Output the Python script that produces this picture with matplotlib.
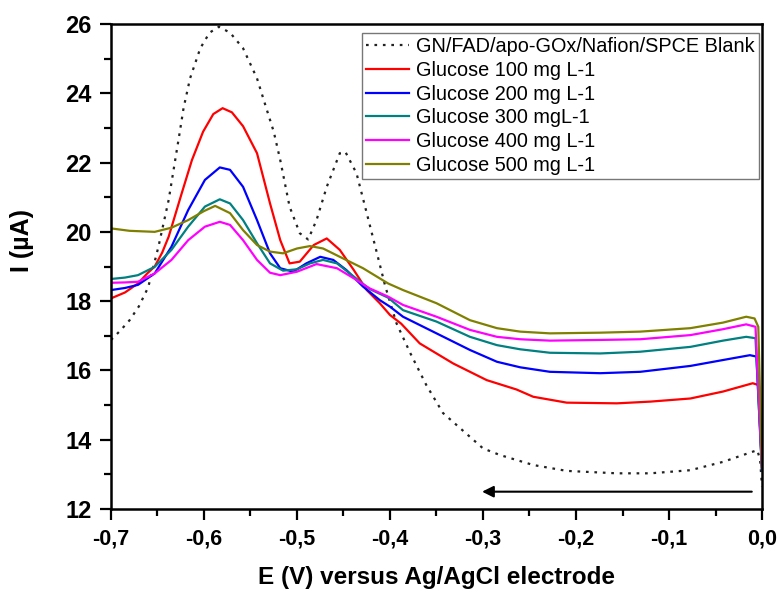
"""
DPV curves: GN/FAD/apo-GOx/Nafion/SPCE with glucose additions
"""

import numpy as np
import matplotlib
matplotlib.use('Agg')
import matplotlib.pyplot as plt
from matplotlib.ticker import MultipleLocator

matplotlib.rcParams['font.family'] = ['Liberation Sans', 'DejaVu Sans']

# ------------------------------------------------------------
# data
# ------------------------------------------------------------
blank_E = [-0.700, -0.690, -0.680, -0.670, -0.660, -0.649, -0.638, -0.631, -0.626, -0.622,
           -0.615, -0.604, -0.594, -0.584, -0.572, -0.558, -0.543, -0.533, -0.525, -0.518,
           -0.508, -0.497, -0.488, -0.479, -0.468, -0.454, -0.448, -0.436, -0.425, -0.414,
           -0.405, -0.393, -0.378, -0.361, -0.343, -0.300, -0.282, -0.246, -0.210, -0.156,
           -0.120, -0.077, -0.042, -0.005, -0.002, 0.000]
blank_I = [16.88, 17.15, 17.45, 17.85, 18.40, 19.57, 20.92, 22.07, 22.89, 23.57,
           24.43, 25.30, 25.75, 25.92, 25.75, 25.30, 24.43, 23.57, 22.89, 22.07,
           20.73, 19.96, 19.78, 20.34, 21.30, 22.27, 22.31, 21.69, 20.54, 19.38,
           18.42, 17.36, 16.49, 15.58, 14.77, 13.75, 13.56, 13.27, 13.10, 13.03,
           13.03, 13.12, 13.36, 13.70, 13.41, 12.65]

g100_E = [-0.700, -0.685, -0.671, -0.661, -0.653, -0.645, -0.638, -0.624, -0.613, -0.601,
          -0.590, -0.580, -0.570, -0.558, -0.543, -0.529, -0.518, -0.508, -0.497, -0.482,
          -0.468, -0.454, -0.439, -0.425, -0.411, -0.400, -0.388, -0.368, -0.332, -0.296,
          -0.264, -0.246, -0.210, -0.156, -0.120, -0.077, -0.042, -0.010, -0.004, 0.000]
g100_I = [18.08, 18.25, 18.51, 18.80, 19.00, 19.40, 19.86, 21.11, 22.07, 22.89,
          23.40, 23.57, 23.45, 23.05, 22.27, 20.82, 19.76, 19.09, 19.14, 19.62,
          19.81, 19.48, 18.90, 18.32, 17.94, 17.60, 17.35, 16.78, 16.20, 15.72,
          15.45, 15.24, 15.07, 15.05, 15.10, 15.19, 15.39, 15.63, 15.58, 13.10]

g200_E = [-0.700, -0.685, -0.671, -0.653, -0.635, -0.617, -0.599, -0.583, -0.572, -0.558,
          -0.543, -0.529, -0.518, -0.504, -0.490, -0.475, -0.461, -0.447, -0.429, -0.411,
          -0.400, -0.386, -0.350, -0.314, -0.285, -0.260, -0.228, -0.174, -0.131, -0.077,
          -0.042, -0.013, -0.006, 0.000]
g200_I = [18.32, 18.38, 18.47, 18.80, 19.57, 20.63, 21.50, 21.86, 21.79, 21.30,
          20.34, 19.38, 18.95, 18.85, 19.09, 19.28, 19.19, 18.90, 18.42, 18.03,
          17.84, 17.55, 17.07, 16.59, 16.25, 16.09, 15.96, 15.92, 15.96, 16.13,
          16.30, 16.44, 16.40, 13.10]

g300_E = [-0.700, -0.685, -0.671, -0.653, -0.635, -0.617, -0.599, -0.583, -0.572, -0.558,
          -0.543, -0.529, -0.515, -0.500, -0.486, -0.472, -0.457, -0.439, -0.422, -0.402,
          -0.386, -0.350, -0.314, -0.285, -0.260, -0.228, -0.174, -0.131, -0.077, -0.042,
          -0.017, -0.007, 0.000]
g300_I = [18.64, 18.68, 18.75, 18.99, 19.48, 20.15, 20.73, 20.94, 20.82, 20.34,
          19.67, 19.09, 18.88, 18.92, 19.09, 19.19, 19.09, 18.71, 18.35, 18.10,
          17.74, 17.41, 16.97, 16.73, 16.61, 16.51, 16.49, 16.54, 16.68, 16.86,
          16.97, 16.93, 13.10]

g400_E = [-0.700, -0.685, -0.671, -0.653, -0.635, -0.617, -0.599, -0.583, -0.572, -0.558,
          -0.543, -0.529, -0.518, -0.500, -0.479, -0.457, -0.439, -0.422, -0.402, -0.386,
          -0.350, -0.314, -0.285, -0.260, -0.228, -0.174, -0.131, -0.077, -0.042, -0.017,
          -0.007, 0.000]
g400_I = [18.53, 18.54, 18.56, 18.80, 19.19, 19.76, 20.15, 20.29, 20.20, 19.76,
          19.19, 18.82, 18.75, 18.85, 19.07, 18.95, 18.66, 18.37, 18.13, 17.89,
          17.55, 17.17, 16.97, 16.90, 16.86, 16.88, 16.90, 17.02, 17.19, 17.33,
          17.26, 13.20]

g500_E = [-0.700, -0.680, -0.653, -0.635, -0.617, -0.600, -0.588, -0.572, -0.558, -0.543,
          -0.529, -0.515, -0.500, -0.486, -0.472, -0.454, -0.429, -0.402, -0.386, -0.350,
          -0.314, -0.285, -0.260, -0.228, -0.174, -0.131, -0.077, -0.042, -0.017, -0.008,
          -0.004, 0.000]
g500_I = [20.10, 20.03, 20.00, 20.12, 20.34, 20.60, 20.75, 20.54, 20.05, 19.62,
          19.43, 19.38, 19.52, 19.59, 19.52, 19.28, 18.95, 18.51, 18.32, 17.94,
          17.45, 17.22, 17.12, 17.07, 17.09, 17.12, 17.22, 17.38, 17.55, 17.50,
          17.26, 13.20]

labels = ['GN/FAD/apo-GOx/Nafion/SPCE Blank', 'Glucose 100 mg L-1', 'Glucose 200 mg L-1',
          'Glucose 300 mgL-1', 'Glucose 400 mg L-1', 'Glucose 500 mg L-1']
colors = ['#FF0000', '#0000FF', '#008080', '#FF00FF', '#808000']

x_ticks = [-0.7, -0.6, -0.5, -0.4, -0.3, -0.2, -0.1, 0.0]
x_ticklabels = ['-0,7', '-0,6', '-0,5', '-0,4', '-0,3', '-0,2', '-0,1', '0,0']
y_ticks = [12, 14, 16, 18, 20, 22, 24, 26]

# scan direction arrow (E values)
arrow_start = -0.011
arrow_end = -0.301
arrow_I = 12.5

# ------------------------------------------------------------
# plot
# ------------------------------------------------------------
fig = plt.figure(figsize=(7.82, 5.92), dpi=100)
ax = fig.add_axes([111 / 782, 1 - 509 / 592, (762 - 111) / 782, (509 - 24) / 592])

ax.plot(blank_E, blank_I, color='#222222', lw=1.6, linestyle=(0, (1.2, 2.6)),
        label=labels[0])
series = [(g100_E, g100_I), (g200_E, g200_I), (g300_E, g300_I),
          (g400_E, g400_I), (g500_E, g500_I)]
for (e, i), c, lab in zip(series, colors, labels[1:]):
    ax.plot(e, i, color=c, lw=1.6, label=lab)

ax.annotate('', xy=(arrow_end, arrow_I), xytext=(arrow_start, arrow_I),
            arrowprops=dict(arrowstyle='-|>', color='black', lw=1.5,
                            mutation_scale=17, shrinkA=0, shrinkB=0))

ax.set_xlim(-0.7, 0.0)
ax.set_ylim(12, 26)
ax.set_xticks(x_ticks)
ax.set_xticklabels(x_ticklabels)
ax.set_yticks(y_ticks)
ax.xaxis.set_minor_locator(MultipleLocator(0.05))
ax.yaxis.set_minor_locator(MultipleLocator(1))
ax.tick_params(which='major', direction='out', length=8, width=1.6, pad=6)
ax.tick_params(which='minor', direction='out', length=5, width=1.6)
ax.tick_params(axis='x', labelsize=15.5)
ax.tick_params(axis='y', labelsize=17)
for lab in ax.get_xticklabels() + ax.get_yticklabels():
    lab.set_fontweight('bold')
for sp in ax.spines.values():
    sp.set_linewidth(1.8)

ax.set_xlabel('E (V) versus Ag/AgCl electrode', fontsize=17.5, fontweight='bold', labelpad=12)
ax.set_ylabel('I (µA)', fontsize=18, fontweight='bold')
ax.yaxis.set_label_coords(-0.118, 0.553)

leg = ax.legend(loc='upper right', bbox_to_anchor=(759 / 782, 1 - 33 / 592),
                bbox_transform=fig.transFigure, fontsize=14.3, frameon=True,
                fancybox=False, edgecolor='#555555', borderpad=0.2,
                labelspacing=0.24, handlelength=2.2, handletextpad=0.35,
                borderaxespad=0)
leg.get_frame().set_linewidth(1.0)

plt.savefig('out.png', dpi=100)
plt.close()
